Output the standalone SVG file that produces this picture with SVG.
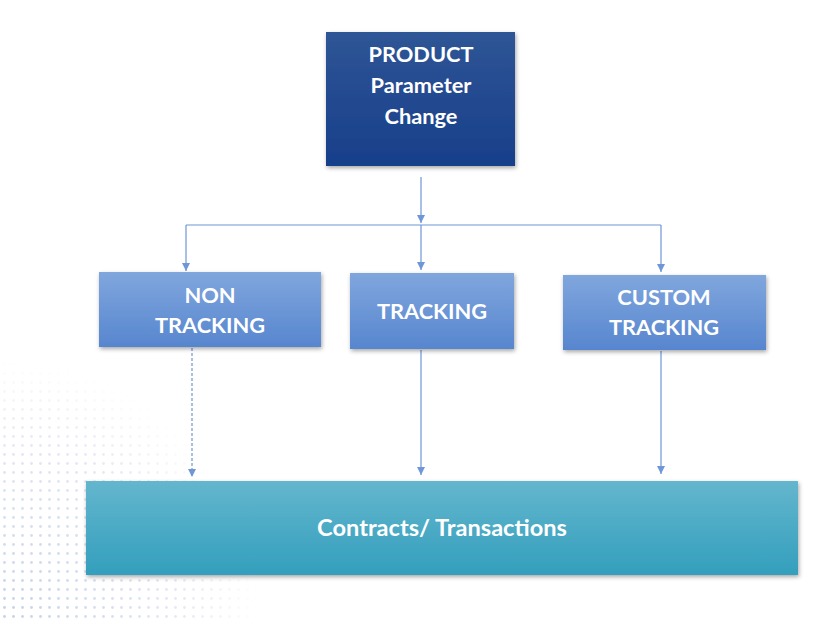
<svg xmlns="http://www.w3.org/2000/svg" width="830" height="621" viewBox="0 0 830 621">
<style>
.t{font-family:Lato,"Open Sans","Liberation Sans",sans-serif;font-weight:bold;fill:#ffffff;text-anchor:middle;font-size:21.8px}
.big{font-size:23.6px}
.c{stroke:#6f96d6;stroke-width:1.2;fill:none}
.dot{fill:#c3d1e8}
</style>
<defs>
<linearGradient id="gTop" x1="0" y1="0" x2="0" y2="1"><stop offset="0" stop-color="#2f5596"/><stop offset="1" stop-color="#173f8a"/></linearGradient>
<linearGradient id="gMid" x1="0" y1="0" x2="0" y2="1"><stop offset="0" stop-color="#80a6dd"/><stop offset="1" stop-color="#5786cf"/></linearGradient>
<linearGradient id="gBot" x1="0" y1="0" x2="0" y2="1"><stop offset="0" stop-color="#64b6cd"/><stop offset="1" stop-color="#339fbd"/></linearGradient>
<filter id="sh" x="-10%" y="-10%" width="125%" height="130%"><feDropShadow dx="1" dy="2" stdDeviation="2" flood-color="#000" flood-opacity="0.35"/></filter>
<marker id="ar" viewBox="0 0 10 10" refX="10" refY="5" markerWidth="8" markerHeight="8" markerUnits="userSpaceOnUse" orient="auto"><path d="M0,0 L10,5 L0,10 z" fill="#6f96d6"/></marker>
<pattern id="dots" width="9" height="9" patternUnits="userSpaceOnUse"><circle cx="4.5" cy="4.5" r="1.4" class="dot"/></pattern>
<radialGradient id="fade" cx="0" cy="1" r="1"><stop offset="0" stop-color="#fff" stop-opacity="1"/><stop offset="0.7" stop-color="#fff" stop-opacity="0.45"/><stop offset="1" stop-color="#fff" stop-opacity="0"/></radialGradient>
<mask id="m"><rect x="0" y="360" width="260" height="261" fill="url(#fade)"/></mask>
</defs>
<rect width="830" height="621" fill="#ffffff"/>
<rect x="0" y="360" width="260" height="261" fill="url(#dots)" mask="url(#m)"/>
<g id="connectors">
<path class="c" d="M421,177 V223" marker-end="url(#ar)"/>
<path class="c" d="M186,225 H661"/>
<path class="c" d="M186,225 V271" marker-end="url(#ar)"/>
<path class="c" d="M421,225 V270" marker-end="url(#ar)"/>
<path class="c" d="M661,225 V272" marker-end="url(#ar)"/>
<path class="c" d="M192,348 V477" stroke-dasharray="3,2" marker-end="url(#ar)"/>
<path class="c" d="M421,350 V475" marker-end="url(#ar)"/>
<path class="c" d="M661,351 V474" marker-end="url(#ar)"/>
</g>
<g id="product">
<rect x="326" y="32" width="189" height="134" fill="url(#gTop)" filter="url(#sh)"/>
<text class="t" x="421" y="62">PRODUCT</text>
<text class="t" x="421" y="93">Parameter</text>
<text class="t" x="421" y="124">Change</text>
</g>
<g id="nontracking">
<rect x="99" y="272" width="222" height="75" fill="url(#gMid)" filter="url(#sh)"/>
<text class="t" x="210" y="303">NON</text>
<text class="t" x="210" y="333">TRACKING</text>
</g>
<g id="tracking">
<rect x="350" y="273" width="164" height="76" fill="url(#gMid)" filter="url(#sh)"/>
<text class="t" x="432" y="319">TRACKING</text>
</g>
<g id="customtracking">
<rect x="563" y="275" width="203" height="75" fill="url(#gMid)" filter="url(#sh)"/>
<text class="t" x="664" y="305">CUSTOM</text>
<text class="t" x="664" y="335">TRACKING</text>
</g>
<g id="contracts">
<rect x="86" y="481" width="712" height="94" fill="url(#gBot)" filter="url(#sh)"/>
<text class="t big" x="442" y="536">Contracts/ Transactions</text>
</g>
</svg>
